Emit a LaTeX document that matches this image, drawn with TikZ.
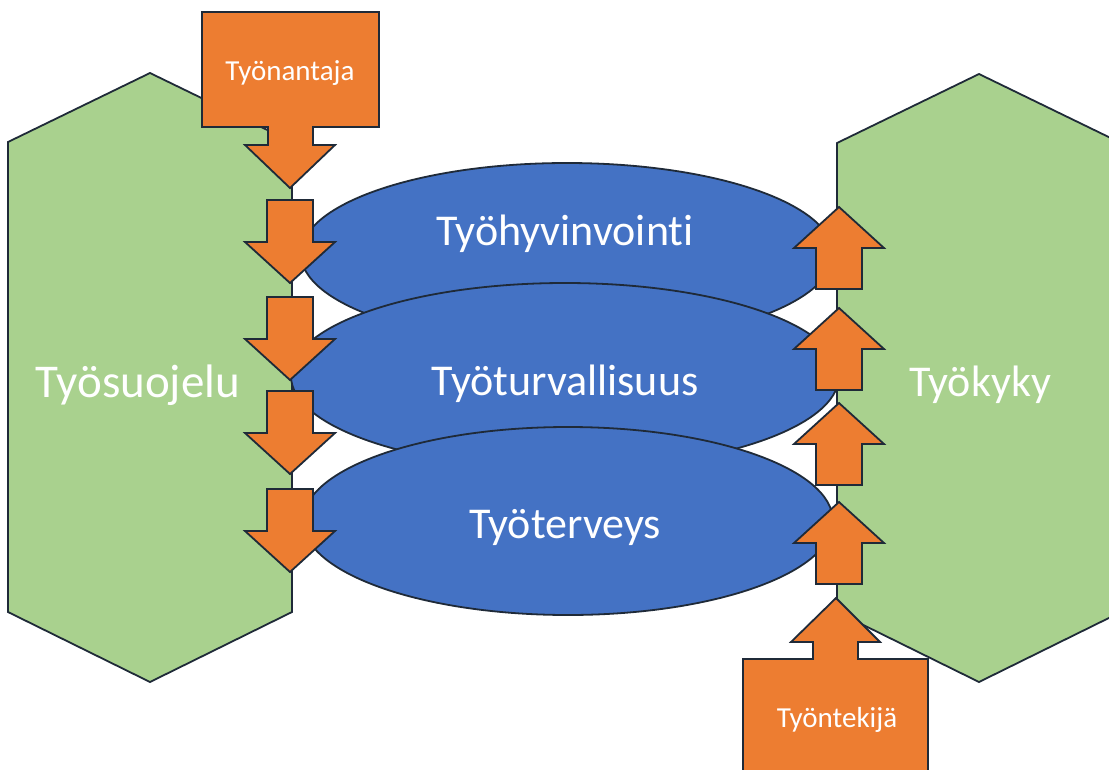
\documentclass[tikz,border=0pt]{standalone}
\usepackage{fontspec}
\setmainfont[Ligatures=NoCommon]{Carlito}
\usetikzlibrary{shapes.geometric}

\definecolor{hexgreen}{HTML}{A9D18E}
\definecolor{ellblue}{HTML}{4472C4}
\definecolor{arrorange}{HTML}{ED7D31}
\definecolor{outline}{HTML}{1F2A38}

\begin{document}
\begin{tikzpicture}[x=1pt,y=-1pt,
  line join=miter,
  hexa/.style={draw=outline,line width=1.8pt,fill=hexgreen},
  ell/.style={ellipse,draw=outline,line width=1.8pt,fill=ellblue,inner sep=0pt},
  blockarrow/.style={draw=outline,line width=1.8pt,fill=arrorange},
  bigtext/.style={text=white,anchor=base,font=\fontsize{44}{50}\selectfont},
  smalltext/.style={text=white,anchor=base,font=\fontsize{29}{33}\selectfont}]

  \useasboundingbox (0,0) rectangle (1109,769);
  \clip (0,0) rectangle (1109,769);

  % hexagons
  \draw[hexa] (150,73) -- (292,142) -- (292,612) -- (150,682) -- (8,612) -- (8,142) -- cycle;
  \draw[hexa] (979,74) -- (1121,143) -- (1121,612) -- (979,682) -- (837,612) -- (837,143) -- cycle;

  % ellipses
  \node[ell,minimum width=532pt,minimum height=182pt] (hyv) at (567,254) {};
  \node[ell,minimum width=548pt,minimum height=186pt] (tur) at (565,376) {};
  \node[ell,minimum width=530pt,minimum height=188pt] (ter) at (568,521) {};

  \node[bigtext] (hyvtext) at (565,245) {Työhyvinvointi};
  \node[bigtext] (turtext) at (565,395) {Työturvallisuus};
  \node[bigtext] (tertext) at (565,538) {Työterveys};
  \node[bigtext,font=\fontsize{47}{52}\selectfont] (suo) at (138,397) {Työsuojelu};
  \node[bigtext] (kyky) at (980,396) {Työkyky};

  % arrows down on the left
  \foreach \t in {200,297,391,489}
    \draw[blockarrow] (267,\t) -- ++(46,0) -- ++(0,42) -- ++(22,0) -- ++(-45,41)
      -- ++(-45,-41) -- ++(22,0) -- cycle;

  % arrows up on the right
  \foreach \t in {207,308,403,502}
    \draw[blockarrow] (839,\t) -- ++(45,41) -- ++(-22,0) -- ++(0,41) -- ++(-46,0)
      -- ++(0,-41) -- ++(-22,0) -- cycle;

  % callouts
  \draw[blockarrow] (202,12) -- (379,12) -- (379,127) -- (313,127) -- (313,145) -- (335,145)
    -- (290,188) -- (245,145) -- (268,145) -- (268,127) -- (202,127) -- cycle;
  \node[smalltext] (antaja) at (290,80) {Työnantaja};

  \draw[blockarrow] (743,790) -- (743,659) -- (813,659) -- (813,642) -- (791,642) -- (836,598)
    -- (880,642) -- (858,642) -- (858,659) -- (928,659) -- (928,790) -- cycle;
  \node[smalltext] (tekija) at (837,727) {Työntekijä};
\end{tikzpicture}
\end{document}
